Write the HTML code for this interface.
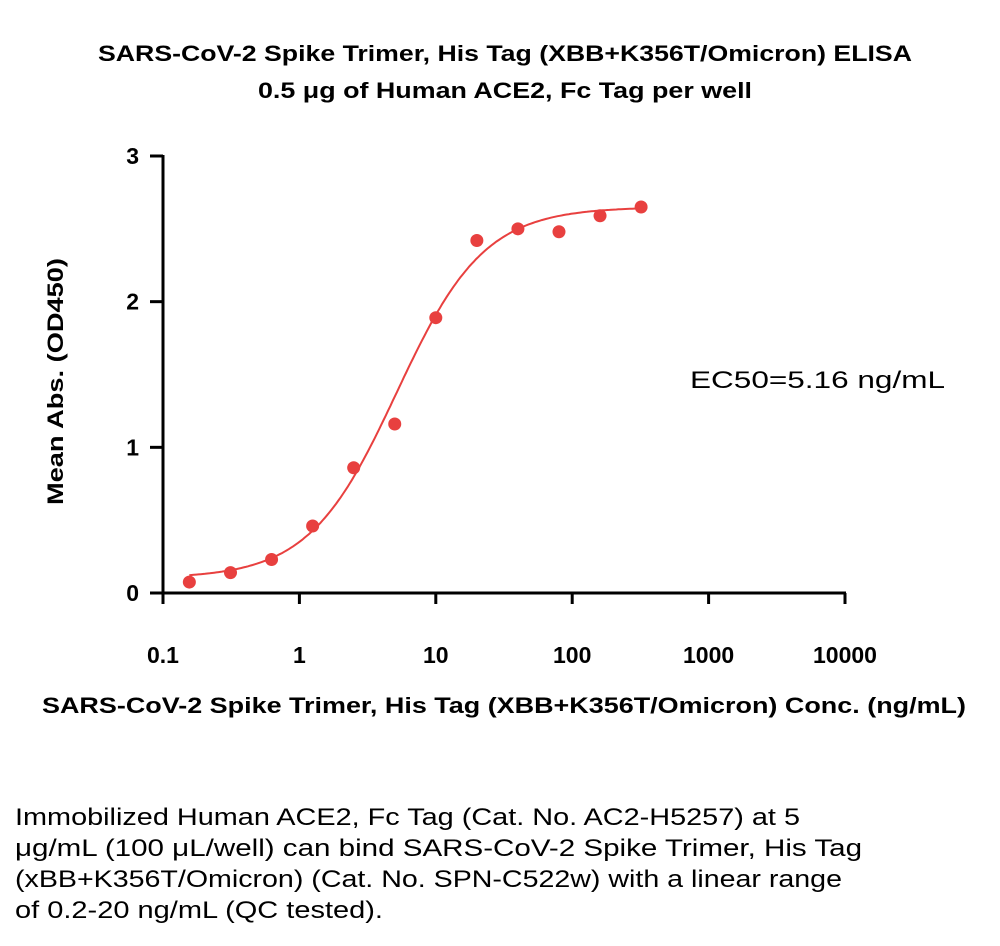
<!DOCTYPE html>
<html><head><meta charset="utf-8"><style>
body{margin:0;background:#fff;width:1000px;height:941px;overflow:hidden;font-family:"Liberation Sans",sans-serif}
</style></head><body>
<svg id="chart" width="1000" height="941" xmlns="http://www.w3.org/2000/svg">
<text x="98" y="61" textLength="814" lengthAdjust="spacingAndGlyphs" font-size="22" font-weight="bold">SARS-CoV-2 Spike Trimer, His Tag (XBB+K356T/Omicron) ELISA</text>
<text x="258" y="98" textLength="494" lengthAdjust="spacingAndGlyphs" font-size="22" font-weight="bold">0.5 μg of Human ACE2, Fc Tag per well</text>
<g id="axes"></g>
<g id="marks"></g>
<text transform="translate(63,505) rotate(-90)" textLength="247" lengthAdjust="spacingAndGlyphs" font-size="22" font-weight="bold">Mean Abs. (OD450)</text>
<text x="42" y="713" textLength="924" lengthAdjust="spacingAndGlyphs" font-size="22" font-weight="bold">SARS-CoV-2 Spike Trimer, His Tag (XBB+K356T/Omicron) Conc. (ng/mL)</text>
<text x="690" y="388" textLength="255" lengthAdjust="spacingAndGlyphs" font-size="24">EC50=5.16 ng/mL</text>
<g font-size="24">
<text x="15" y="825" textLength="785" lengthAdjust="spacingAndGlyphs">Immobilized Human ACE2, Fc Tag (Cat. No. AC2-H5257) at 5</text>
<text x="15" y="856" textLength="847" lengthAdjust="spacingAndGlyphs">μg/mL (100 μL/well) can bind SARS-CoV-2 Spike Trimer, His Tag</text>
<text x="15" y="887" textLength="827" lengthAdjust="spacingAndGlyphs">(xBB+K356T/Omicron) (Cat. No. SPN-C522w) with a linear range</text>
<text x="15" y="918" textLength="368" lengthAdjust="spacingAndGlyphs">of 0.2-20 ng/mL (QC tested).</text>
</g>
</svg>
<script>
const concentrations=[0.156,0.3125,0.625,1.25,2.5,5,10,20,40,80,160,320];
const absorbances=[0.075,0.14,0.23,0.46,0.86,1.16,1.89,2.42,2.50,2.48,2.59,2.65];
const xTicks=[0.1,1,10,100,1000,10000];
const xTickLabels=["0.1","1","10","100","1000","10000"];
const yTicks=[0,1,2,3];
const fitBottom=0.1, fitTop=2.65, fitEC50=5.16, fitHill=1.35;

const NS="http://www.w3.org/2000/svg";
const x0=163,x1=845,y0=593,y1=156;
const xs=v=>x0+(Math.log10(v)-Math.log10(0.1))/(Math.log10(10000)-Math.log10(0.1))*(x1-x0);
const ys=v=>y0-(v/3)*(y0-y1);
function mk(tag,attrs,parent){const e=document.createElementNS(NS,tag);for(const k in attrs)e.setAttribute(k,attrs[k]);parent.appendChild(e);return e;}
const axes=document.getElementById('axes'),marks=document.getElementById('marks');
let a=mk('line',{x1:x0,y1:y0,x2:x1+1,y2:y0,stroke:'#000','stroke-width':3},axes);


a=mk('line',{x1:x0,y1:y0+1.5,x2:x0,y2:y1-1,stroke:'#000','stroke-width':3},axes);


xTicks.forEach((t,i)=>{
 const l=mk('line',{x1:xs(t),y1:y0,x2:xs(t),y2:y0+11,stroke:'#000','stroke-width':3},axes);
 
 
 const tx=mk('text',{x:xs(t),y:y0+70,'text-anchor':'middle','font-size':23,'font-weight':'bold'},axes);
 tx.textContent=xTickLabels[i];
 
 
});
yTicks.forEach(t=>{
 const l=mk('line',{x1:x0-13,y1:ys(t),x2:x0,y2:ys(t),stroke:'#000','stroke-width':3},axes);
 
 
 const tx=mk('text',{x:x0-24,y:ys(t)+8,'text-anchor':'end','font-size':23,'font-weight':'bold'},axes);
 tx.textContent=String(t);
 
 
});
let d='';
const lo=Math.log10(concentrations[0]),hi=Math.log10(concentrations[concentrations.length-1]);
for(let i=0;i<=200;i++){const lx=lo+(hi-lo)*i/200,c=Math.pow(10,lx);
 const v=fitBottom+(fitTop-fitBottom)/(1+Math.pow(fitEC50/c,fitHill));
 d+=(i?'L':'M')+xs(c).toFixed(1)+','+ys(v).toFixed(1);}
const p=mk('path',{d:d,fill:'none',stroke:'#e8403f','stroke-width':2},marks);


concentrations.forEach((c,i)=>{
 const pt=mk('circle',{cx:xs(c),cy:ys(absorbances[i]),r:6.5,fill:'#e8403f'},marks);
 
 
});
</script>
</body></html>
